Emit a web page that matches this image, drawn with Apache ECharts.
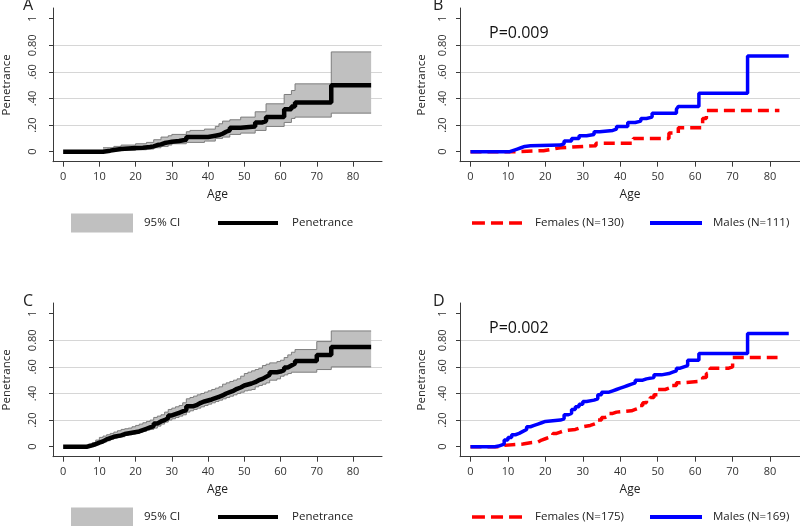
<!DOCTYPE html>
<html><head><meta charset="utf-8">
<script src="https://cdn.jsdelivr.net/npm/echarts@6/dist/echarts.min.js"></script>
<style>html,body{margin:0;padding:0;background:#fff}#c{width:800px;height:526px}</style>
</head><body><div id="c"></div>
<script>
// ---- tick labels ----
const xTicks = [0, 10, 20, 30, 40, 50, 60, 70, 80];
const yTicks = [0, 0.2, 0.4, 0.6, 0.8, 1];
const yTickLabels = ['0', '.20', '.40', '.60', '0.80', '1'];

// ---- panel A: overall penetrance + 95% CI  [age, value] / [age, lower, upper] ----
const penA = [[0,0],[11,0.004],[12,0.008],[13,0.013],[14,0.02],[16,0.025],[18,0.028],[20,0.03],[22,0.035],[24,0.04],[25,0.05],[26,0.055],[27,0.065],[28,0.07],[29,0.075],[30,0.08],[32,0.09],[34,0.11],[40,0.12],[42,0.125],[43,0.135],[44,0.15],[45,0.16],[46,0.18],[49,0.19],[53,0.22],[55,0.23],[56,0.26],[61,0.32],[63,0.34],[64,0.37],[74,0.50],[85,0.50]];
const ciA = [[11,0.003,0.03],[14,0.008,0.04],[16,0.01,0.05],[20,0.015,0.06],[23,0.02,0.07],[25,0.03,0.09],[27,0.04,0.11],[29,0.05,0.12],[30,0.06,0.13],[34,0.07,0.15],[35,0.07,0.16],[39,0.08,0.17],[42,0.10,0.19],[43,0.10,0.21],[44,0.11,0.23],[46,0.13,0.24],[49,0.14,0.26],[53,0.16,0.30],[56,0.19,0.36],[61,0.22,0.43],[63,0.25,0.46],[64,0.26,0.51],[74,0.29,0.75],[85,0.29,0.75]];

// ---- panel B: by sex ----
const femB = [[0,0],[11.5,0.008],[19.5,0.02],[22,0.03],[24,0.045],[33.5,0.063],[43.5,0.10],[53,0.14],[55.5,0.18],[62,0.25],[63,0.31],[82.5,0.31]];
const malB = [[0,0],[10.5,0.01],[11.5,0.02],[12.5,0.03],[13.5,0.04],[14.5,0.045],[16,0.05],[24,0.06],[25,0.08],[27,0.10],[29,0.12],[31,0.13],[33,0.15],[34.5,0.16],[38,0.17],[39,0.19],[42,0.22],[44,0.23],[45.5,0.25],[47,0.26],[48.5,0.29],[55,0.32],[55.5,0.34],[61,0.44],[74,0.72],[85,0.72]];
const pB = 'P=0.009';
const sexLegB = ['Females (N=130)', 'Males (N=111)'];

// ---- panel C: overall penetrance + 95% CI ----
const penC = [[0,0],[6.5,0.005],[7,0.01],[8,0.02],[9,0.03],[10,0.04],[11,0.055],[12,0.065],[13,0.075],[14,0.085],[16,0.095],[17,0.105],[19,0.115],[21,0.125],[22,0.135],[23,0.145],[24,0.155],[25,0.175],[26,0.19],[27,0.20],[28,0.215],[29,0.235],[30,0.245],[31,0.255],[32,0.265],[33,0.275],[34,0.305],[36,0.315],[37,0.33],[38,0.34],[39,0.355],[41,0.365],[42,0.375],[43,0.385],[44,0.40],[45,0.41],[46,0.42],[47,0.435],[48,0.445],[49,0.46],[50,0.475],[52,0.485],[53,0.50],[54,0.51],[55,0.525],[56,0.54],[57,0.56],[59,0.565],[60,0.575],[61,0.595],[62,0.61],[63,0.625],[64,0.645],[70,0.69],[74,0.75],[85,0.75]];
const ciC = [[7,0.0,0.02],[8,0.005,0.03],[9,0.015,0.05],[10,0.025,0.07],[11,0.035,0.08],[12,0.045,0.09],[13,0.055,0.10],[14,0.065,0.11],[15,0.07,0.12],[16,0.075,0.13],[17,0.085,0.135],[18,0.09,0.14],[19,0.095,0.15],[20,0.10,0.16],[21,0.11,0.17],[22,0.115,0.18],[23,0.125,0.19],[24,0.13,0.20],[25,0.14,0.22],[26,0.155,0.23],[27,0.17,0.24],[28,0.185,0.26],[29,0.20,0.28],[30,0.21,0.29],[31,0.22,0.30],[32,0.23,0.31],[33,0.24,0.33],[34,0.26,0.36],[35,0.27,0.37],[36,0.28,0.38],[37,0.29,0.39],[38,0.30,0.40],[39,0.31,0.41],[40,0.32,0.42],[41,0.33,0.43],[42,0.34,0.44],[43,0.35,0.45],[44,0.36,0.47],[45,0.37,0.48],[46,0.38,0.49],[47,0.39,0.50],[48,0.40,0.51],[49,0.41,0.53],[50,0.42,0.55],[51,0.425,0.56],[52,0.43,0.57],[53,0.45,0.58],[54,0.46,0.59],[55,0.47,0.61],[56,0.48,0.62],[57,0.50,0.63],[59,0.51,0.64],[60,0.53,0.65],[61,0.54,0.67],[62,0.55,0.69],[63,0.56,0.71],[64,0.56,0.73],[70,0.58,0.79],[74,0.60,0.87],[85,0.60,0.87]];

// ---- panel D: by sex ----
const femD = [[0,0],[7.5,0.005],[8,0.01],[9,0.02],[14,0.03],[16,0.035],[18,0.05],[19,0.06],[20,0.07],[21,0.08],[22,0.10],[23,0.11],[24,0.12],[25,0.13],[28,0.14],[29,0.15],[30,0.16],[32,0.17],[33,0.18],[34,0.20],[35,0.22],[36,0.23],[37,0.25],[38,0.26],[39,0.27],[43,0.28],[44,0.29],[45,0.31],[46,0.33],[47,0.35],[48,0.37],[49,0.39],[50,0.43],[52,0.44],[53,0.46],[55,0.48],[56,0.49],[61,0.50],[62,0.52],[63,0.55],[64,0.59],[69,0.60],[70,0.67],[82,0.67]];
const malD = [[0,0],[6.5,0.005],[7.5,0.01],[8,0.02],[9,0.05],[10,0.07],[11,0.09],[12,0.10],[13,0.115],[14,0.13],[15,0.15],[16,0.16],[17,0.17],[18,0.18],[19,0.19],[20,0.20],[24,0.21],[25,0.24],[26,0.25],[27,0.28],[28,0.30],[29,0.32],[30,0.34],[31,0.35],[33,0.36],[34,0.39],[35,0.41],[37,0.42],[38,0.43],[39,0.44],[40,0.45],[41,0.46],[42,0.47],[43,0.48],[44,0.50],[46,0.51],[47,0.52],[49,0.54],[51,0.55],[53,0.56],[54,0.57],[55,0.59],[56,0.60],[57,0.61],[58,0.65],[61,0.70],[74,0.85],[85,0.85]];
const pD = 'P=0.002';
const sexLegD = ['Females (N=175)', 'Males (N=169)'];

const panelLetters = ['A', 'B', 'C', 'D'];
const overallLeg = ['95% CI', 'Penetrance'];

// ---- styling / layout ----
const F = '"Open Sans", sans-serif';
const AX = '#3a3a3a';
const GRID = '#d6d6d6';
const BAND = '#c0c0c0';
const BANDLINE = '#7d7d7d';
const RED = '#ff0000', BLUE = '#0000ff';

const grids = [
  {left: 49, top: 8, width: 333, height: 153.7},
  {left: 460, top: 8, width: 343, height: 153.7},
  {left: 49, top: 303, width: 333, height: 153.7},
  {left: 460, top: 303, width: 343, height: 153.7}
];
const nameGaps = [40, 32, 40, 32];
const yLabelMargins = [15, 12, 15, 12];

function xAx(gi) {
  return {
    type: 'value', gridIndex: gi, min: -2.8, max: 88,
    name: 'Age', nameLocation: 'middle', nameGap: 27,
    nameTextStyle: {fontFamily: F, fontSize: 12, color: '#222'},
    axisLine: {show: true, onZero: false, lineStyle: {color: AX, width: 1}},
    axisTick: {show: true, length: 5, customValues: xTicks, lineStyle: {color: AX}},
    axisLabel: {customValues: xTicks, fontFamily: F, fontSize: 11, color: '#333', margin: 10},
    splitLine: {show: false}
  };
}
function yAx(gi) {
  return {
    type: 'value', gridIndex: gi, min: -0.075, max: 1.08,
    name: 'Penetrance', nameLocation: 'middle', nameGap: nameGaps[gi], nameRotate: 90,
    nameTextStyle: {fontFamily: F, fontSize: 11.5, color: '#222'},
    axisLine: {show: true, onZero: false, lineStyle: {color: AX, width: 1}},
    axisTick: {show: true, length: 4, customValues: yTicks, lineStyle: {color: AX}},
    axisLabel: {
      customValues: yTicks, rotate: 90, margin: yLabelMargins[gi], fontFamily: F, fontSize: 11, color: '#333',
      formatter: function (v) {
        const i = yTicks.findIndex(t => Math.abs(t - v) < 1e-6);
        return i < 0 ? '' : yTickLabels[i];
      }
    },
    splitLine: {show: true, showMinLine: false, showMaxLine: false, lineStyle: {color: GRID, width: 1}}
  };
}

// CI band drawn as a stepped polygon through the axis scales (api.coord)
function bandSeries(gi, ci) {
  return {
    type: 'custom', name: overallLeg[0], xAxisIndex: gi, yAxisIndex: gi, z: 2, silent: true,
    data: ci, encode: {x: 0, y: [1, 2]}, clip: true,
    renderItem: function (params, api) {
      if (params.dataIndex !== 0) return null;
      const up = [], lo = [];
      for (let i = 0; i < ci.length; i++) {
        const x = ci[i][0];
        if (i > 0) {
          up.push(api.coord([x, ci[i - 1][2]]));
          lo.push(api.coord([x, ci[i - 1][1]]));
        }
        up.push(api.coord([x, ci[i][2]]));
        lo.push(api.coord([x, ci[i][1]]));
      }
      const poly = up.concat(lo.slice().reverse());
      return {type: 'group', children: [
        {type: 'polygon', shape: {points: poly}, style: {fill: BAND}},
        {type: 'polyline', shape: {points: up}, style: {stroke: BANDLINE, lineWidth: 1, fill: null}},
        {type: 'polyline', shape: {points: lo}, style: {stroke: BANDLINE, lineWidth: 1, fill: null}}
      ]};
    }
  };
}
function lineSeries(gi, name, data, color, width, type, z) {
  return {type: 'line', name: name, xAxisIndex: gi, yAxisIndex: gi, step: 'end', symbol: 'none',
    silent: true, z: z, data: data,
    lineStyle: {color: color, width: width, type: type}};
}

const series = [
  bandSeries(0, ciA),
  lineSeries(0, overallLeg[1], penA, '#000', 4.5, 'solid', 4),
  lineSeries(1, sexLegB[0], femB, RED, 3.5, [11, 6], 3),
  lineSeries(1, sexLegB[1], malB, BLUE, 3.5, 'solid', 4),
  bandSeries(2, ciC),
  lineSeries(2, overallLeg[1], penC, '#000', 4.5, 'solid', 4),
  lineSeries(3, sexLegD[0], femD, RED, 3.5, [11, 6], 3),
  lineSeries(3, sexLegD[1], malD, BLUE, 3.5, 'solid', 4)
];

const DASH_ICON = 'path://M0,0h15v4h-15z M22,0h14v4h-14z M43,0h15v4h-15z';
function leg(name, icon, color, left, top, w, h, gap) {
  return {
    data: [{name: name, icon: icon, itemStyle: {color: color, borderWidth: 0}}],
    left: left, top: top, itemWidth: w, itemHeight: h, padding: 0, selectedMode: false,
    textStyle: {fontFamily: F, fontSize: 11.5, color: '#222', lineHeight: 19, padding: [0, 0, 0, gap]}
  };
}
const legends = [];
[[213.5, overallLeg, sexLegB], [507.5, overallLeg, sexLegD]].forEach(function (row) {
  const top = row[0];
  legends.push(leg(row[1][0], 'rect', BAND, 71, top, 62, 19, 6));
  legends.push(leg(row[1][1], 'rect', '#000', 218, top, 60, 4, 9));
  legends.push(leg(row[2][0], DASH_ICON, RED, 472, top, 50, 4, 8));
  legends.push(leg(row[2][1], 'rect', BLUE, 650, top, 52, 4, 6));
});

const letterPos = [[23, 5], [433, 5], [23, 301], [433, 301]];
const graphics = panelLetters.map((t, i) => ({
  type: 'text', x: letterPos[i][0], y: letterPos[i][1], silent: true,
  style: {text: t, font: '16px ' + F, fill: '#222', verticalAlign: 'middle'}
}));
graphics.push({type: 'text', x: 489, y: 33, silent: true,
  style: {text: pB, font: '16px ' + F, fill: '#111', verticalAlign: 'middle'}});
graphics.push({type: 'text', x: 489, y: 328, silent: true,
  style: {text: pD, font: '16px ' + F, fill: '#111', verticalAlign: 'middle'}});

const chart = echarts.init(document.getElementById('c'), null, {renderer: 'canvas'});
chart.setOption({
  animation: false,
  backgroundColor: '#fff',
  grid: grids,
  xAxis: [0, 1, 2, 3].map(xAx),
  yAxis: [0, 1, 2, 3].map(yAx),
  legend: legends,
  series: series,
  graphic: graphics
});
</script>
</body></html>
